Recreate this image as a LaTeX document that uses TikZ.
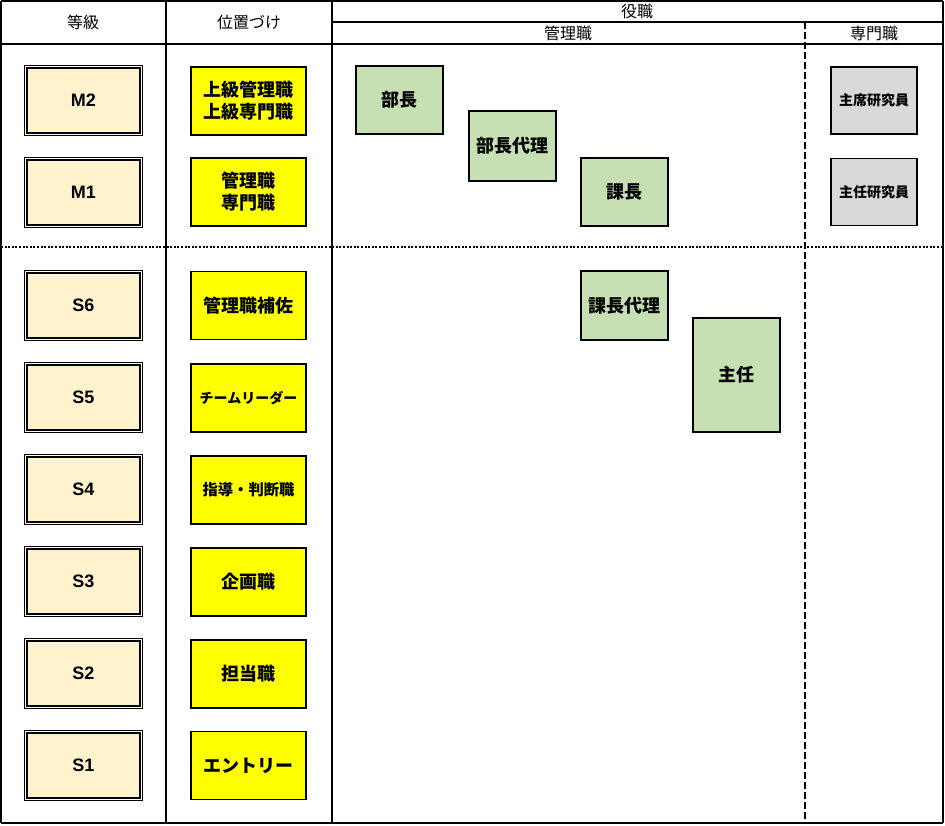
\documentclass[tikz,border=0pt]{standalone}
\usepackage{fontspec}
\setmainfont{Liberation Sans}
\newfontfamily\jp{Noto Sans CJK JP}
\definecolor{beige}{HTML}{FFF2CC}
\definecolor{yel}{HTML}{FFFF00}
\definecolor{grn}{HTML}{C6E0B4}
\definecolor{gry}{HTML}{D9D9D9}
\begin{document}
\begin{tikzpicture}[x=0.75pt,y=-0.75pt,
  sz/.style 2 args={minimum width=#1*0.75pt, minimum height=#2*0.75pt},
  base/.style={draw, line width=1pt, inner sep=0pt, outer sep=0pt, align=center},
  gradebox/.style={base, fill=beige, line width=1.2pt, sz={113}{65}, font=\fontsize{13.5pt}{15pt}\selectfont\bfseries},
  posbox/.style={base, fill=yel, sz={115}{68}, font=\jp\fontsize{13.5pt}{16.5pt}\selectfont\bfseries},
  rolebox/.style={base, fill=grn, font=\jp\fontsize{13.5pt}{16pt}\selectfont\bfseries},
  specbox/.style={base, fill=gry, sz={86}{67}, font=\jp\fontsize{10.5pt}{13pt}\selectfont\bfseries},
  head/.style={font=\jp\fontsize{12pt}{13pt}\selectfont, inner sep=0pt}
]
\useasboundingbox (0,0) rectangle (945,825);
% grid lines
\draw[line width=0.8pt] (1,1) -- (943,1);
\draw[line width=0.8pt] (1,1) -- (1,823);
\draw[line width=1.6pt] (943,1) -- (943,823);
\draw[line width=1.6pt] (1,823) -- (943,823);
\draw[line width=1.6pt] (1,44) -- (943,44);
\draw[line width=1.6pt] (166,1) -- (166,823);
\draw[line width=0.8pt] (332,1) -- (332,823);
\draw[line width=0.8pt] (332,22) -- (943,22);
\draw[line width=0.8pt, dash pattern=on 5pt off 2.5pt] (805,22) -- (805,823);
\draw[line width=1.5pt, dash pattern=on 1.5pt off 1.2pt] (1,247) -- (943,247);
% headers
\node[head] (h1) at (83,22) {等級};
\node[head] (h2) at (249,22) {位置づけ};
\node[head] (h3) at (637,11) {役職};
\node[head] (h4) at (568,33) {管理職};
\node[head] (h5) at (874,33) {専門職};
% grade boxes
\node[gradebox] (m2) at (83.5,100.5) {M2};
\node[gradebox] (m1) at (83.5,192.5) {M1};
\node[gradebox] (s6) at (83.5,305.5) {S6};
\node[gradebox] (s5) at (83.5,397.5) {S5};
\node[gradebox] (s4) at (83.5,489.5) {S4};
\node[gradebox] (s3) at (83.5,581.5) {S3};
\node[gradebox] (s2) at (83.5,673.5) {S2};
\node[gradebox] (s1) at (83.5,765.5) {S1};
\foreach \n in {m2,m1,s6,s5,s4,s3,s2,s1}
  \draw[line width=0.7pt] ([shift={(-2.5,-2.5)}]\n.north west) rectangle ([shift={(2.5,2.5)}]\n.south east);
% position boxes
\node[posbox] (p1) at (248.5,101) {上級管理職\\上級専門職};
\node[posbox] (p2) at (248.5,192) {管理職\\専門職};
\node[posbox] (p3) at (248.5,305.5) {管理職補佐};
\node[posbox, font=\jp\fontsize{10.5pt}{13pt}\selectfont\bfseries] (p4) at (248.5,398) {チームリーダー};
\node[posbox, font=\jp\fontsize{11.5pt}{13pt}\selectfont\bfseries] (p5) at (248.5,490) {指導・判断職};
\node[posbox] (p6) at (248.5,582) {企画職};
\node[posbox] (p7) at (248.5,674) {担当職};
\node[posbox] (p8) at (248.5,765.5) {エントリー};
% role boxes
\node[rolebox, sz={87}{68}] (r1) at (399.5,100) {部長};
\node[rolebox, sz={87}{70}] (r2) at (512.5,146) {部長代理};
\node[rolebox, sz={87}{68}] (r3) at (624.5,192) {課長};
\node[rolebox, sz={87}{69}] (r4) at (624.5,305.5) {課長代理};
\node[rolebox, sz={87}{114}] (r5) at (736.5,375) {主任};
\node[specbox] (sp1) at (874,100.5) {主席研究員};
\node[specbox] (sp2) at (874,192) {主任研究員};
\end{tikzpicture}
\end{document}
